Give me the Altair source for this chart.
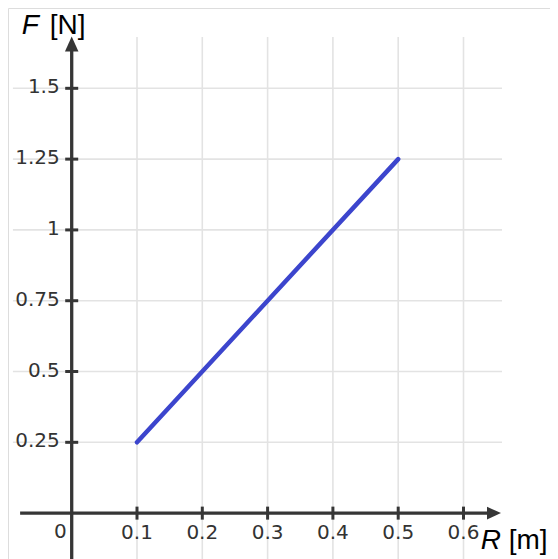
import altair as alt
import pandas as pd

# data
R_vals = [0.1, 0.5]
F_vals = [0.25, 1.25]
x_ticks = [0.1, 0.2, 0.3, 0.4, 0.5, 0.6]
x_labels = ["0.1", "0.2", "0.3", "0.4", "0.5", "0.6"]
y_ticks = [0.25, 0.5, 0.75, 1.0, 1.25, 1.5]
y_labels = ["0.25", "0.5", "0.75", "1", "1.25", "1.5"]

# view extents (data units)
X_DOM = [-0.09755, 0.73246]
Y_DOM = [-0.1620, 1.7836]
GRID_X = [-0.09, 0.659]
GRID_Y_TOP = 1.681
X_AXIS = [-0.079, 0.64]
Y_AXIS_TOP = 1.64
X_ARROW = 0.6467
Y_ARROW = 1.6564

W, H = 542, 551
AX = "#363636"
GRID = "#e3e3e3"
TICKFONT = "DejaVu Sans"
TITLEFONT = "Liberation Sans"

xs = alt.Scale(domain=X_DOM, nice=False, zero=False)
ys = alt.Scale(domain=Y_DOM, nice=False, zero=False)

def X(f):
    return alt.X(f, type="quantitative", scale=xs, axis=None)

def Y(f):
    return alt.Y(f, type="quantitative", scale=ys, axis=None)

hgrid_df = pd.DataFrame({"y": y_ticks, "x0": GRID_X[0], "x1": GRID_X[1]})
vgrid_df = pd.DataFrame({"x": x_ticks, "y0": Y_DOM[0], "y1": GRID_Y_TOP})

hgrid = alt.Chart(hgrid_df).mark_rule(color=GRID, strokeWidth=1.6).encode(
    x=X("x0"), x2="x1", y=Y("y"))
vgrid = alt.Chart(vgrid_df).mark_rule(color=GRID, strokeWidth=1.6).encode(
    x=X("x"), y=Y("y0"), y2="y1")

xaxis_df = pd.DataFrame({"x0": [X_AXIS[0]], "x1": [X_AXIS[1]], "y": [0.0]})
yaxis_df = pd.DataFrame({"y0": [Y_DOM[0]], "y1": [Y_AXIS_TOP], "x": [0.0]})
xaxis = alt.Chart(xaxis_df).mark_rule(color=AX, strokeWidth=3.3).encode(
    x=X("x0"), x2="x1", y=Y("y"))
yaxis = alt.Chart(yaxis_df).mark_rule(color=AX, strokeWidth=3.3).encode(
    x=X("x"), y=Y("y0"), y2="y1")

xt_df = pd.DataFrame({"x": x_ticks, "y": 0.0, "lab": x_labels})
yt_df = pd.DataFrame({"y": y_ticks, "x": 0.0, "lab": y_labels})

xticks = alt.Chart(xt_df).mark_tick(color=AX, size=13, thickness=3, orient="vertical", opacity=1).encode(
    x=X("x"), y=Y("y"))
yticks = alt.Chart(yt_df).mark_tick(color=AX, size=13, thickness=3, orient="horizontal", opacity=1).encode(
    x=X("x"), y=Y("y"))

xarrow = alt.Chart(pd.DataFrame({"x": [X_ARROW], "y": [0.0]})).mark_point(
    shape="M -1 -0.9 L 1 0 L -1 0.9 Z", size=196, filled=True, color=AX, opacity=1, strokeWidth=0
).encode(x=X("x"), y=Y("y"))
yarrow = alt.Chart(pd.DataFrame({"x": [0.0], "y": [Y_ARROW]})).mark_point(
    shape="M -0.9 1 L 0 -1 L 0.9 1 Z", size=225, filled=True, color=AX, opacity=1, strokeWidth=0
).encode(x=X("x"), y=Y("y"))

line_df = pd.DataFrame({"R": R_vals, "F": F_vals})
line = alt.Chart(line_df).mark_line(color="#3c45cd", strokeWidth=4.5, strokeCap="round").encode(
    x=X("R"), y=Y("F"))

xlab = alt.Chart(xt_df).mark_text(font=TICKFONT, fontSize=20, color="#333333",
                                  align="center", baseline="alphabetic", dy=26).encode(
    x=X("x"), y=Y("y"), text="lab:N")
ylab = alt.Chart(yt_df).mark_text(font=TICKFONT, fontSize=20, color="#333333",
                                  align="right", baseline="middle", dx=-12, dy=-1).encode(
    x=X("x"), y=Y("y"), text="lab:N")
zlab = alt.Chart(pd.DataFrame({"x": [0.0], "y": [0.0], "lab": ["0"]})).mark_text(
    font=TICKFONT, fontSize=20, color="#333333", align="right", baseline="alphabetic", dx=-5, dy=25
).encode(x=X("x"), y=Y("y"), text="lab:N")

ft = pd.DataFrame({"x": [0.0], "y": [GRID_Y_TOP]})
f_it = alt.Chart(ft).mark_text(font=TITLEFONT, fontSize=28, fontStyle="italic", color="#000000",
                               align="left", baseline="alphabetic", dx=-50, dy=-3, text="F").encode(
    x=X("x"), y=Y("y"))
f_un = alt.Chart(ft).mark_text(font=TITLEFONT, fontSize=28, color="#000000",
                               align="left", baseline="alphabetic", dx=-22, dy=-3, text="[N]").encode(
    x=X("x"), y=Y("y"))

rt = pd.DataFrame({"x": [0.657], "y": [0.0]})
r_it = alt.Chart(rt).mark_text(font=TITLEFONT, fontSize=28, fontStyle="italic", color="#000000",
                               align="left", baseline="alphabetic", dx=-20, dy=36, text="R").encode(
    x=X("x"), y=Y("y"))
r_un = alt.Chart(rt).mark_text(font=TITLEFONT, fontSize=28, color="#000000",
                               align="left", baseline="alphabetic", dx=8, dy=36, text="[m]").encode(
    x=X("x"), y=Y("y"))

chart = alt.layer(
    hgrid, vgrid, xaxis, yaxis, xticks, yticks, xarrow, yarrow, line,
    xlab, ylab, zlab, f_it, f_un, r_it, r_un
).properties(
    width=W, height=H, padding=0, autosize=alt.AutoSizeParams(type="none")
).configure_view(strokeWidth=0, stroke="transparent").configure(background="white")

chart.save("out.html", embed_options={"renderer": "svg", "actions": False})
